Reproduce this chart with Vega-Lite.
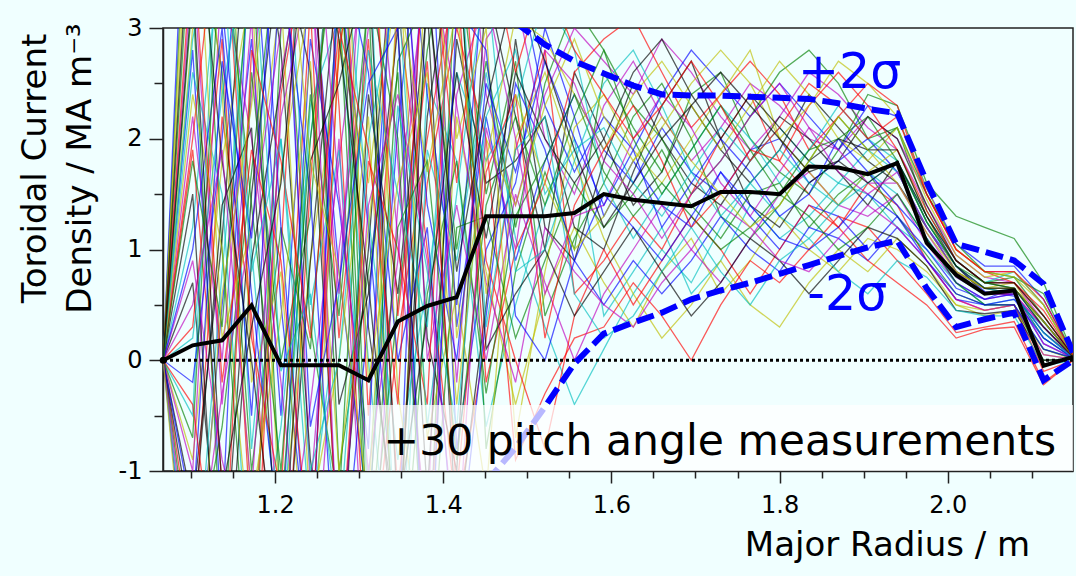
{"$schema":"https://vega.github.io/schema/vega-lite/v6.json","width":910,"height":443,"autosize":{"type":"none"},"padding":{"left":163,"top":28,"right":3,"bottom":105},"background":"#f0ffff","config":{"font":"DejaVu Sans","view":{"stroke":"#222","strokeWidth":1.5}},
"resolve":{"axis":{"x":"independent","y":"independent"}},
"datasets":{
"sp":[
{"s":1,"x":1.067,"y":0},{"s":1,"x":1.102,"y":2.8},{"s":1,"x":1.137,"y":-1.5},{"s":1,"x":1.172,"y":4.2},{"s":1,"x":1.207,"y":0.5},{"s":1,"x":1.242,"y":-2},{"s":1,"x":1.276,"y":3.5},{"s":1,"x":1.311,"y":1.2},{"s":1,"x":1.346,"y":-1.8},{"s":1,"x":1.381,"y":5},{"s":1,"x":1.416,"y":0.3},{"s":1,"x":1.451,"y":2.2},{"s":1,"x":1.486,"y":0.9},{"s":1,"x":1.521,"y":1.8},{"s":1,"x":1.556,"y":2.4},{"s":1,"x":1.591,"y":1.9},{"s":1,"x":1.626,"y":1.6},{"s":1,"x":1.66,"y":2.1},{"s":1,"x":1.695,"y":1.7},{"s":1,"x":1.73,"y":1.5},{"s":1,"x":1.765,"y":1.9},{"s":1,"x":1.8,"y":2},{"s":1,"x":1.835,"y":1.6},{"s":1,"x":1.87,"y":1.8},{"s":1,"x":1.905,"y":2},{"s":1,"x":1.94,"y":1.7},{"s":1,"x":1.975,"y":1.2},{"s":1,"x":2.01,"y":0.85},{"s":1,"x":2.044,"y":0.62},{"s":1,"x":2.079,"y":0.58},{"s":1,"x":2.114,"y":0.15},{"s":1,"x":2.149,"y":0.02},
{"s":2,"x":1.067,"y":0},{"s":2,"x":1.102,"y":5.5},{"s":2,"x":1.137,"y":1},{"s":2,"x":1.172,"y":-2.5},{"s":2,"x":1.207,"y":3},{"s":2,"x":1.242,"y":4.5},{"s":2,"x":1.276,"y":-1},{"s":2,"x":1.311,"y":0.8},{"s":2,"x":1.346,"y":2.6},{"s":2,"x":1.381,"y":-2.2},{"s":2,"x":1.416,"y":3.8},{"s":2,"x":1.451,"y":1.5},{"s":2,"x":1.486,"y":2.7},{"s":2,"x":1.521,"y":0.4},{"s":2,"x":1.556,"y":1.1},{"s":2,"x":1.591,"y":1.6},{"s":2,"x":1.626,"y":2.2},{"s":2,"x":1.66,"y":2.5},{"s":2,"x":1.695,"y":2},{"s":2,"x":1.73,"y":1.3},{"s":2,"x":1.765,"y":1.1},{"s":2,"x":1.8,"y":1.4},{"s":2,"x":1.835,"y":1.8},{"s":2,"x":1.87,"y":2.2},{"s":2,"x":1.905,"y":1.9},{"s":2,"x":1.94,"y":2.1},{"s":2,"x":1.975,"y":1.35},{"s":2,"x":2.01,"y":0.9},{"s":2,"x":2.044,"y":0.7},{"s":2,"x":2.079,"y":0.75},{"s":2,"x":2.114,"y":0.4},{"s":2,"x":2.149,"y":0.04},
{"s":3,"x":1.067,"y":0},{"s":3,"x":1.102,"y":-1.8},{"s":3,"x":1.137,"y":2.2},{"s":3,"x":1.172,"y":0.4},{"s":3,"x":1.207,"y":-2.8},{"s":3,"x":1.242,"y":1.6},{"s":3,"x":1.276,"y":4.8},{"s":3,"x":1.311,"y":-0.5},{"s":3,"x":1.346,"y":3.2},{"s":3,"x":1.381,"y":1},{"s":3,"x":1.416,"y":-1.4},{"s":3,"x":1.451,"y":0.2},{"s":3,"x":1.486,"y":1.9},{"s":3,"x":1.521,"y":2.8},{"s":3,"x":1.556,"y":0.6},{"s":3,"x":1.591,"y":0.9},{"s":3,"x":1.626,"y":1.3},{"s":3,"x":1.66,"y":1},{"s":3,"x":1.695,"y":1.5},{"s":3,"x":1.73,"y":2},{"s":3,"x":1.765,"y":2.4},{"s":3,"x":1.8,"y":1.8},{"s":3,"x":1.835,"y":1.5},{"s":3,"x":1.87,"y":1.2},{"s":3,"x":1.905,"y":1.6},{"s":3,"x":1.94,"y":1.4},{"s":3,"x":1.975,"y":0.9},{"s":3,"x":2.01,"y":0.55},{"s":3,"x":2.044,"y":0.45},{"s":3,"x":2.079,"y":0.5},{"s":3,"x":2.114,"y":-0.1},{"s":3,"x":2.149,"y":0},
{"s":4,"x":1.067,"y":0},{"s":4,"x":1.102,"y":1.2},{"s":4,"x":1.137,"y":3.9},{"s":4,"x":1.172,"y":-0.8},{"s":4,"x":1.207,"y":2},{"s":4,"x":1.242,"y":-1.5},{"s":4,"x":1.276,"y":0.6},{"s":4,"x":1.311,"y":4},{"s":4,"x":1.346,"y":-2.4},{"s":4,"x":1.381,"y":2.5},{"s":4,"x":1.416,"y":1.8},{"s":4,"x":1.451,"y":-0.6},{"s":4,"x":1.486,"y":0.5},{"s":4,"x":1.521,"y":1.4},{"s":4,"x":1.556,"y":2},{"s":4,"x":1.591,"y":0.4},{"s":4,"x":1.626,"y":0.8},{"s":4,"x":1.66,"y":1.2},{"s":4,"x":1.695,"y":0.6},{"s":4,"x":1.73,"y":0.9},{"s":4,"x":1.765,"y":1.4},{"s":4,"x":1.8,"y":1.1},{"s":4,"x":1.835,"y":1.3},{"s":4,"x":1.87,"y":1.6},{"s":4,"x":1.905,"y":1.5},{"s":4,"x":1.94,"y":1.2},{"s":4,"x":1.975,"y":1},{"s":4,"x":2.01,"y":0.7},{"s":4,"x":2.044,"y":0.5},{"s":4,"x":2.079,"y":0.55},{"s":4,"x":2.114,"y":0.3},{"s":4,"x":2.149,"y":0.03},
{"s":5,"x":1.067,"y":0},{"s":5,"x":1.102,"y":3.6},{"s":5,"x":1.137,"y":-0.4},{"s":5,"x":1.172,"y":2.4},{"s":5,"x":1.207,"y":5.2},{"s":5,"x":1.242,"y":-1.2},{"s":5,"x":1.276,"y":2},{"s":5,"x":1.311,"y":-2.6},{"s":5,"x":1.346,"y":1.4},{"s":5,"x":1.381,"y":3.6},{"s":5,"x":1.416,"y":-0.2},{"s":5,"x":1.451,"y":2.9},{"s":5,"x":1.486,"y":3.3},{"s":5,"x":1.521,"y":2},{"s":5,"x":1.556,"y":1.5},{"s":5,"x":1.591,"y":2.3},{"s":5,"x":1.626,"y":2.7},{"s":5,"x":1.66,"y":2.2},{"s":5,"x":1.695,"y":1.8},{"s":5,"x":1.73,"y":2.1},{"s":5,"x":1.765,"y":2.5},{"s":5,"x":1.8,"y":2.3},{"s":5,"x":1.835,"y":2},{"s":5,"x":1.87,"y":1.9},{"s":5,"x":1.905,"y":2.2},{"s":5,"x":1.94,"y":2},{"s":5,"x":1.975,"y":1.5},{"s":5,"x":2.01,"y":1},{"s":5,"x":2.044,"y":0.8},{"s":5,"x":2.079,"y":0.8},{"s":5,"x":2.114,"y":0.5},{"s":5,"x":2.149,"y":0.05},
{"s":6,"x":1.067,"y":0},{"s":6,"x":1.102,"y":-0.9},{"s":6,"x":1.137,"y":1.8},{"s":6,"x":1.172,"y":3.4},{"s":6,"x":1.207,"y":-1.6},{"s":6,"x":1.242,"y":0.9},{"s":6,"x":1.276,"y":2.7},{"s":6,"x":1.311,"y":5},{"s":6,"x":1.346,"y":-0.3},{"s":6,"x":1.381,"y":-2},{"s":6,"x":1.416,"y":2.2},{"s":6,"x":1.451,"y":0.8},{"s":6,"x":1.486,"y":-0.4},{"s":6,"x":1.521,"y":0.6},{"s":6,"x":1.556,"y":1.2},{"s":6,"x":1.591,"y":0.7},{"s":6,"x":1.626,"y":0.3},{"s":6,"x":1.66,"y":0.8},{"s":6,"x":1.695,"y":1.1},{"s":6,"x":1.73,"y":0.6},{"s":6,"x":1.765,"y":0.9},{"s":6,"x":1.8,"y":1.3},{"s":6,"x":1.835,"y":1},{"s":6,"x":1.87,"y":0.8},{"s":6,"x":1.905,"y":1.1},{"s":6,"x":1.94,"y":1},{"s":6,"x":1.975,"y":0.8},{"s":6,"x":2.01,"y":0.5},{"s":6,"x":2.044,"y":0.4},{"s":6,"x":2.079,"y":0.45},{"s":6,"x":2.114,"y":0.1},{"s":6,"x":2.149,"y":0.01},
{"s":7,"x":1.067,"y":0},{"s":7,"x":1.102,"y":0.7},{"s":7,"x":1.137,"y":-2.2},{"s":7,"x":1.172,"y":1.5},{"s":7,"x":1.207,"y":3.8},{"s":7,"x":1.242,"y":2.6},{"s":7,"x":1.276,"y":-1.8},{"s":7,"x":1.311,"y":1},{"s":7,"x":1.346,"y":4.4},{"s":7,"x":1.381,"y":0.2},{"s":7,"x":1.416,"y":-1},{"s":7,"x":1.451,"y":3.4},{"s":7,"x":1.486,"y":2.2},{"s":7,"x":1.521,"y":1},{"s":7,"x":1.556,"y":2.6},{"s":7,"x":1.591,"y":2},{"s":7,"x":1.626,"y":1.4},{"s":7,"x":1.66,"y":1.7},{"s":7,"x":1.695,"y":2.3},{"s":7,"x":1.73,"y":1.9},{"s":7,"x":1.765,"y":1.6},{"s":7,"x":1.8,"y":1.9},{"s":7,"x":1.835,"y":2.4},{"s":7,"x":1.87,"y":2.1},{"s":7,"x":1.905,"y":1.8},{"s":7,"x":1.94,"y":1.6},{"s":7,"x":1.975,"y":1.2},{"s":7,"x":2.01,"y":0.8},{"s":7,"x":2.044,"y":0.65},{"s":7,"x":2.079,"y":0.6},{"s":7,"x":2.114,"y":0.2},{"s":7,"x":2.149,"y":0.02},
{"s":8,"x":1.067,"y":0},{"s":8,"x":1.102,"y":-2.6},{"s":8,"x":1.137,"y":0.5},{"s":8,"x":1.172,"y":2.9},{"s":8,"x":1.207,"y":-0.5},{"s":8,"x":1.242,"y":3.7},{"s":8,"x":1.276,"y":0.8},{"s":8,"x":1.311,"y":-1.4},{"s":8,"x":1.346,"y":2.1},{"s":8,"x":1.381,"y":4.6},{"s":8,"x":1.416,"y":-0.8},{"s":8,"x":1.451,"y":1},{"s":8,"x":1.486,"y":1.6},{"s":8,"x":1.521,"y":3},{"s":8,"x":1.556,"y":2.2},{"s":8,"x":1.591,"y":1.3},{"s":8,"x":1.626,"y":1.8},{"s":8,"x":1.66,"y":1.4},{"s":8,"x":1.695,"y":1.2},{"s":8,"x":1.73,"y":1.7},{"s":8,"x":1.765,"y":1.3},{"s":8,"x":1.8,"y":1},{"s":8,"x":1.835,"y":1.4},{"s":8,"x":1.87,"y":1.3},{"s":8,"x":1.905,"y":1},{"s":8,"x":1.94,"y":1.3},{"s":8,"x":1.975,"y":1},{"s":8,"x":2.01,"y":0.65},{"s":8,"x":2.044,"y":0.55},{"s":8,"x":2.079,"y":0.65},{"s":8,"x":2.114,"y":0.35},{"s":8,"x":2.149,"y":0.03},
{"s":9,"x":1.067,"y":0},{"s":9,"x":1.102,"y":4.2},{"s":9,"x":1.137,"y":2.6},{"s":9,"x":1.172,"y":-1},{"s":9,"x":1.207,"y":1.2},{"s":9,"x":1.242,"y":0.1},{"s":9,"x":1.276,"y":3.3},{"s":9,"x":1.311,"y":-2},{"s":9,"x":1.346,"y":0.5},{"s":9,"x":1.381,"y":2.8},{"s":9,"x":1.416,"y":4.2},{"s":9,"x":1.451,"y":-0.8},{"s":9,"x":1.486,"y":0.8},{"s":9,"x":1.521,"y":1.7},{"s":9,"x":1.556,"y":1},{"s":9,"x":1.591,"y":2.6},{"s":9,"x":1.626,"y":2.1},{"s":9,"x":1.66,"y":1.7},{"s":9,"x":1.695,"y":2.4},{"s":9,"x":1.73,"y":2.6},{"s":9,"x":1.765,"y":2},{"s":9,"x":1.8,"y":1.7},{"s":9,"x":1.835,"y":1.5},{"s":9,"x":1.87,"y":1.9},{"s":9,"x":1.905,"y":2.4},{"s":9,"x":1.94,"y":2.3},{"s":9,"x":1.975,"y":1.6},{"s":9,"x":2.01,"y":1.3},{"s":9,"x":2.044,"y":1.2},{"s":9,"x":2.079,"y":1.1},{"s":9,"x":2.114,"y":0.7},{"s":9,"x":2.149,"y":0.06},
{"s":10,"x":1.067,"y":0},{"s":10,"x":1.102,"y":1.9},{"s":10,"x":1.137,"y":-1.1},{"s":10,"x":1.172,"y":-2.9},{"s":10,"x":1.207,"y":2.4},{"s":10,"x":1.242,"y":4},{"s":10,"x":1.276,"y":0.2},{"s":10,"x":1.311,"y":2.9},{"s":10,"x":1.346,"y":-1.2},{"s":10,"x":1.381,"y":1.6},{"s":10,"x":1.416,"y":3},{"s":10,"x":1.451,"y":2},{"s":10,"x":1.486,"y":-0.9},{"s":10,"x":1.521,"y":-0.3},{"s":10,"x":1.556,"y":0.2},{"s":10,"x":1.591,"y":0.3},{"s":10,"x":1.626,"y":0.7},{"s":10,"x":1.66,"y":0.4},{"s":10,"x":1.695,"y":0},{"s":10,"x":1.73,"y":0.5},{"s":10,"x":1.765,"y":0.9},{"s":10,"x":1.8,"y":0.7},{"s":10,"x":1.835,"y":1},{"s":10,"x":1.87,"y":1.3},{"s":10,"x":1.905,"y":1.2},{"s":10,"x":1.94,"y":0.9},{"s":10,"x":1.975,"y":0.6},{"s":10,"x":2.01,"y":0.25},{"s":10,"x":2.044,"y":0.3},{"s":10,"x":2.079,"y":0.35},{"s":10,"x":2.114,"y":-0.2},{"s":10,"x":2.149,"y":0},
{"s":11,"x":1.067,"y":0},{"s":11,"x":1.102,"y":-0.5},{"s":11,"x":1.137,"y":4.6},{"s":11,"x":1.172,"y":1},{"s":11,"x":1.207,"y":-1.9},{"s":11,"x":1.242,"y":2.3},{"s":11,"x":1.276,"y":3.1},{"s":11,"x":1.311,"y":0},{"s":11,"x":1.346,"y":-2.8},{"s":11,"x":1.381,"y":1.9},{"s":11,"x":1.416,"y":0.9},{"s":11,"x":1.451,"y":2.6},{"s":11,"x":1.486,"y":1.1},{"s":11,"x":1.521,"y":0.3},{"s":11,"x":1.556,"y":-0.4},{"s":11,"x":1.591,"y":0.1},{"s":11,"x":1.626,"y":0.6},{"s":11,"x":1.66,"y":1},{"s":11,"x":1.695,"y":0.7},{"s":11,"x":1.73,"y":1.2},{"s":11,"x":1.765,"y":1.6},{"s":11,"x":1.8,"y":1.3},{"s":11,"x":1.835,"y":1.1},{"s":11,"x":1.87,"y":1.4},{"s":11,"x":1.905,"y":1.7},{"s":11,"x":1.94,"y":1.5},{"s":11,"x":1.975,"y":1.1},{"s":11,"x":2.01,"y":0.75},{"s":11,"x":2.044,"y":0.6},{"s":11,"x":2.079,"y":0.6},{"s":11,"x":2.114,"y":0.2},{"s":11,"x":2.149,"y":0.02},
{"s":12,"x":1.067,"y":0},{"s":12,"x":1.102,"y":2.2},{"s":12,"x":1.137,"y":0},{"s":12,"x":1.172,"y":3.1},{"s":12,"x":1.207,"y":-2.3},{"s":12,"x":1.242,"y":-0.4},{"s":12,"x":1.276,"y":1.8},{"s":12,"x":1.311,"y":3.9},{"s":12,"x":1.346,"y":1.1},{"s":12,"x":1.381,"y":-1.6},{"s":12,"x":1.416,"y":5.2},{"s":12,"x":1.451,"y":2.4},{"s":12,"x":1.486,"y":1.4},{"s":12,"x":1.521,"y":2.4},{"s":12,"x":1.556,"y":3},{"s":12,"x":1.591,"y":2.7},{"s":12,"x":1.626,"y":2.4},{"s":12,"x":1.66,"y":2.9},{"s":12,"x":1.695,"y":2.6},{"s":12,"x":1.73,"y":2.2},{"s":12,"x":1.765,"y":1.9},{"s":12,"x":1.8,"y":2.2},{"s":12,"x":1.835,"y":2.6},{"s":12,"x":1.87,"y":2.4},{"s":12,"x":1.905,"y":2.1},{"s":12,"x":1.94,"y":1.9},{"s":12,"x":1.975,"y":1.4},{"s":12,"x":2.01,"y":0.95},{"s":12,"x":2.044,"y":0.75},{"s":12,"x":2.079,"y":0.7},{"s":12,"x":2.114,"y":0.35},{"s":12,"x":2.149,"y":0.04},
{"s":13,"x":1.067,"y":0},{"s":13,"x":1.102,"y":3},{"s":13,"x":1.137,"y":5.8},{"s":13,"x":1.172,"y":-0.2},{"s":13,"x":1.207,"y":0.8},{"s":13,"x":1.242,"y":-2.5},{"s":13,"x":1.276,"y":2.9},{"s":13,"x":1.311,"y":1.6},{"s":13,"x":1.346,"y":3.8},{"s":13,"x":1.381,"y":-0.7},{"s":13,"x":1.416,"y":0.6},{"s":13,"x":1.451,"y":-1.2},{"s":13,"x":1.486,"y":2},{"s":13,"x":1.521,"y":2.6},{"s":13,"x":1.556,"y":1.8},{"s":13,"x":1.591,"y":1.1},{"s":13,"x":1.626,"y":0.6},{"s":13,"x":1.66,"y":0.2},{"s":13,"x":1.695,"y":0.5},{"s":13,"x":1.73,"y":0.9},{"s":13,"x":1.765,"y":0.5},{"s":13,"x":1.8,"y":0.3},{"s":13,"x":1.835,"y":0.7},{"s":13,"x":1.87,"y":1},{"s":13,"x":1.905,"y":0.8},{"s":13,"x":1.94,"y":1.1},{"s":13,"x":1.975,"y":0.85},{"s":13,"x":2.01,"y":0.5},{"s":13,"x":2.044,"y":0.45},{"s":13,"x":2.079,"y":0.5},{"s":13,"x":2.114,"y":0.05},{"s":13,"x":2.149,"y":0.01},
{"s":14,"x":1.067,"y":0},{"s":14,"x":1.102,"y":-1.3},{"s":14,"x":1.137,"y":1.1},{"s":14,"x":1.172,"y":4.5},{"s":14,"x":1.207,"y":2.8},{"s":14,"x":1.242,"y":-0.9},{"s":14,"x":1.276,"y":-2.6},{"s":14,"x":1.311,"y":2.4},{"s":14,"x":1.346,"y":0.6},{"s":14,"x":1.381,"y":3.2},{"s":14,"x":1.416,"y":-1.6},{"s":14,"x":1.451,"y":0.5},{"s":14,"x":1.486,"y":2.9},{"s":14,"x":1.521,"y":1.2},{"s":14,"x":1.556,"y":0.9},{"s":14,"x":1.591,"y":1.8},{"s":14,"x":1.626,"y":2.5},{"s":14,"x":1.66,"y":2},{"s":14,"x":1.695,"y":1.6},{"s":14,"x":1.73,"y":1.4},{"s":14,"x":1.765,"y":1.8},{"s":14,"x":1.8,"y":2.2},{"s":14,"x":1.835,"y":2},{"s":14,"x":1.87,"y":1.7},{"s":14,"x":1.905,"y":1.4},{"s":14,"x":1.94,"y":1.8},{"s":14,"x":1.975,"y":1.25},{"s":14,"x":2.01,"y":0.85},{"s":14,"x":2.044,"y":0.6},{"s":14,"x":2.079,"y":0.6},{"s":14,"x":2.114,"y":0.25},{"s":14,"x":2.149,"y":0.03},
{"s":15,"x":1.067,"y":0},{"s":15,"x":1.102,"y":6},{"s":15,"x":1.137,"y":3.2},{"s":15,"x":1.172,"y":0.6},{"s":15,"x":1.207,"y":-1.7},{"s":15,"x":1.242,"y":2.9},{"s":15,"x":1.276,"y":1.4},{"s":15,"x":1.311,"y":-0.8},{"s":15,"x":1.346,"y":4.8},{"s":15,"x":1.381,"y":2.4},{"s":15,"x":1.416,"y":0.5},{"s":15,"x":1.451,"y":3.8},{"s":15,"x":1.486,"y":3.6},{"s":15,"x":1.521,"y":2.3},{"s":15,"x":1.556,"y":1.7},{"s":15,"x":1.591,"y":2.2},{"s":15,"x":1.626,"y":1.9},{"s":15,"x":1.66,"y":2.4},{"s":15,"x":1.695,"y":2.8},{"s":15,"x":1.73,"y":2.5},{"s":15,"x":1.765,"y":2.2},{"s":15,"x":1.8,"y":2.5},{"s":15,"x":1.835,"y":2.2},{"s":15,"x":1.87,"y":1.9},{"s":15,"x":1.905,"y":2.3},{"s":15,"x":1.94,"y":2.2},{"s":15,"x":1.975,"y":1.55},{"s":15,"x":2.01,"y":1.05},{"s":15,"x":2.044,"y":0.85},{"s":15,"x":2.079,"y":0.85},{"s":15,"x":2.114,"y":0.55},{"s":15,"x":2.149,"y":0.05},
{"s":16,"x":1.067,"y":0},{"s":16,"x":1.102,"y":-2},{"s":16,"x":1.137,"y":-0.6},{"s":16,"x":1.172,"y":1.7},{"s":16,"x":1.207,"y":4.1},{"s":16,"x":1.242,"y":0.3},{"s":16,"x":1.276,"y":-1.3},{"s":16,"x":1.311,"y":3.4},{"s":16,"x":1.346,"y":2},{"s":16,"x":1.381,"y":-2.4},{"s":16,"x":1.416,"y":1.2},{"s":16,"x":1.451,"y":1.3},{"s":16,"x":1.486,"y":0.2},{"s":16,"x":1.521,"y":0.9},{"s":16,"x":1.556,"y":1.6},{"s":16,"x":1.591,"y":1.2},{"s":16,"x":1.626,"y":1.5},{"s":16,"x":1.66,"y":1.9},{"s":16,"x":1.695,"y":1.4},{"s":16,"x":1.73,"y":1.1},{"s":16,"x":1.765,"y":1.5},{"s":16,"x":1.8,"y":1.6},{"s":16,"x":1.835,"y":1.2},{"s":16,"x":1.87,"y":1.5},{"s":16,"x":1.905,"y":1.7},{"s":16,"x":1.94,"y":1.3},{"s":16,"x":1.975,"y":0.95},{"s":16,"x":2.01,"y":0.6},{"s":16,"x":2.044,"y":0.5},{"s":16,"x":2.079,"y":0.5},{"s":16,"x":2.114,"y":0},{"s":16,"x":2.149,"y":0.01},
{"s":17,"x":1.067,"y":0},{"s":17,"x":1.102,"y":0.3},{"s":17,"x":1.137,"y":2.9},{"s":17,"x":1.172,"y":-1.6},{"s":17,"x":1.207,"y":1},{"s":17,"x":1.242,"y":5.4},{"s":17,"x":1.276,"y":2.3},{"s":17,"x":1.311,"y":-2.2},{"s":17,"x":1.346,"y":0.2},{"s":17,"x":1.381,"y":2},{"s":17,"x":1.416,"y":3.5},{"s":17,"x":1.451,"y":-0.2},{"s":17,"x":1.486,"y":1},{"s":17,"x":1.521,"y":1.6},{"s":17,"x":1.556,"y":2.6},{"s":17,"x":1.591,"y":2.9},{"s":17,"x":1.626,"y":3.1},{"s":17,"x":1.66,"y":2.6},{"s":17,"x":1.695,"y":2.1},{"s":17,"x":1.73,"y":2.4},{"s":17,"x":1.765,"y":2.7},{"s":17,"x":1.8,"y":2.4},{"s":17,"x":1.835,"y":1.9},{"s":17,"x":1.87,"y":2.2},{"s":17,"x":1.905,"y":2.5},{"s":17,"x":1.94,"y":2.3},{"s":17,"x":1.975,"y":1.5},{"s":17,"x":2.01,"y":1},{"s":17,"x":2.044,"y":0.8},{"s":17,"x":2.079,"y":0.7},{"s":17,"x":2.114,"y":0.45},{"s":17,"x":2.149,"y":0.04},
{"s":18,"x":1.067,"y":0},{"s":18,"x":1.102,"y":2.6},{"s":18,"x":1.137,"y":1.5},{"s":18,"x":1.172,"y":-2.3},{"s":18,"x":1.207,"y":-0.6},{"s":18,"x":1.242,"y":2},{"s":18,"x":1.276,"y":4.3},{"s":18,"x":1.311,"y":1.3},{"s":18,"x":1.346,"y":-0.9},{"s":18,"x":1.381,"y":0.7},{"s":18,"x":1.416,"y":2.6},{"s":18,"x":1.451,"y":1.8},{"s":18,"x":1.486,"y":2.3},{"s":18,"x":1.521,"y":3.3},{"s":18,"x":1.556,"y":2.8},{"s":18,"x":1.591,"y":1.6},{"s":18,"x":1.626,"y":1.1},{"s":18,"x":1.66,"y":1.5},{"s":18,"x":1.695,"y":1.9},{"s":18,"x":1.73,"y":2.3},{"s":18,"x":1.765,"y":2},{"s":18,"x":1.8,"y":1.6},{"s":18,"x":1.835,"y":1.9},{"s":18,"x":1.87,"y":2.3},{"s":18,"x":1.905,"y":2},{"s":18,"x":1.94,"y":1.8},{"s":18,"x":1.975,"y":1.3},{"s":18,"x":2.01,"y":0.9},{"s":18,"x":2.044,"y":0.7},{"s":18,"x":2.079,"y":0.8},{"s":18,"x":2.114,"y":0.5},{"s":18,"x":2.149,"y":0.04},
{"s":19,"x":1.067,"y":0},{"s":19,"x":1.102,"y":-1},{"s":19,"x":1.137,"y":3.5},{"s":19,"x":1.172,"y":2},{"s":19,"x":1.207,"y":-0.2},{"s":19,"x":1.242,"y":-2.7},{"s":19,"x":1.276,"y":1},{"s":19,"x":1.311,"y":3},{"s":19,"x":1.346,"y":5.5},{"s":19,"x":1.381,"y":0},{"s":19,"x":1.416,"y":1.4},{"s":19,"x":1.451,"y":0},{"s":19,"x":1.486,"y":1.5},{"s":19,"x":1.521,"y":0.7},{"s":19,"x":1.556,"y":0},{"s":19,"x":1.591,"y":0.6},{"s":19,"x":1.626,"y":1},{"s":19,"x":1.66,"y":1.4},{"s":19,"x":1.695,"y":1},{"s":19,"x":1.73,"y":0.7},{"s":19,"x":1.765,"y":1.1},{"s":19,"x":1.8,"y":1.5},{"s":19,"x":1.835,"y":1.7},{"s":19,"x":1.87,"y":1.4},{"s":19,"x":1.905,"y":1.3},{"s":19,"x":1.94,"y":1.5},{"s":19,"x":1.975,"y":1.05},{"s":19,"x":2.01,"y":0.7},{"s":19,"x":2.044,"y":0.55},{"s":19,"x":2.079,"y":0.6},{"s":19,"x":2.114,"y":0.15},{"s":19,"x":2.149,"y":0.02},
{"s":20,"x":1.067,"y":0},{"s":20,"x":1.102,"y":4.8},{"s":20,"x":1.137,"y":0.2},{"s":20,"x":1.172,"y":1.2},{"s":20,"x":1.207,"y":3.3},{"s":20,"x":1.242,"y":-1.4},{"s":20,"x":1.276,"y":0},{"s":20,"x":1.311,"y":2.2},{"s":20,"x":1.346,"y":-2.2},{"s":20,"x":1.381,"y":4},{"s":20,"x":1.416,"y":2},{"s":20,"x":1.451,"y":3},{"s":20,"x":1.486,"y":-0.7},{"s":20,"x":1.521,"y":0.8},{"s":20,"x":1.556,"y":2.1},{"s":20,"x":1.591,"y":2.4},{"s":20,"x":1.626,"y":1.9},{"s":20,"x":1.66,"y":1.6},{"s":20,"x":1.695,"y":2},{"s":20,"x":1.73,"y":2.4},{"s":20,"x":1.765,"y":2.8},{"s":20,"x":1.8,"y":2},{"s":20,"x":1.835,"y":1.7},{"s":20,"x":1.87,"y":1.4},{"s":20,"x":1.905,"y":1.7},{"s":20,"x":1.94,"y":1.9},{"s":20,"x":1.975,"y":1.3},{"s":20,"x":2.01,"y":0.8},{"s":20,"x":2.044,"y":0.65},{"s":20,"x":2.079,"y":0.7},{"s":20,"x":2.114,"y":0.3},{"s":20,"x":2.149,"y":0.03},
{"s":21,"x":1.067,"y":0},{"s":21,"x":1.102,"y":1.5},{"s":21,"x":1.137,"y":-2.8},{"s":21,"x":1.172,"y":0.9},{"s":21,"x":1.207,"y":2.5},{"s":21,"x":1.242,"y":4.2},{"s":21,"x":1.276,"y":-0.4},{"s":21,"x":1.311,"y":0.6},{"s":21,"x":1.346,"y":3},{"s":21,"x":1.381,"y":-1.2},{"s":21,"x":1.416,"y":2.9},{"s":21,"x":1.451,"y":1.6},{"s":21,"x":1.486,"y":1.8},{"s":21,"x":1.521,"y":2.2},{"s":21,"x":1.556,"y":1.2},{"s":21,"x":1.591,"y":1},{"s":21,"x":1.626,"y":1.7},{"s":21,"x":1.66,"y":2.3},{"s":21,"x":1.695,"y":2.7},{"s":21,"x":1.73,"y":2},{"s":21,"x":1.765,"y":1.4},{"s":21,"x":1.8,"y":1.2},{"s":21,"x":1.835,"y":1.6},{"s":21,"x":1.87,"y":1.8},{"s":21,"x":1.905,"y":2.2},{"s":21,"x":1.94,"y":2},{"s":21,"x":1.975,"y":1.4},{"s":21,"x":2.01,"y":0.9},{"s":21,"x":2.044,"y":0.7},{"s":21,"x":2.079,"y":0.65},{"s":21,"x":2.114,"y":0.35},{"s":21,"x":2.149,"y":0.03},
{"s":22,"x":1.067,"y":0},{"s":22,"x":1.102,"y":-0.2},{"s":22,"x":1.137,"y":2},{"s":22,"x":1.172,"y":5.2},{"s":22,"x":1.207,"y":1.2},{"s":22,"x":1.242,"y":-2.1},{"s":22,"x":1.276,"y":3.8},{"s":22,"x":1.311,"y":2.6},{"s":22,"x":1.346,"y":0},{"s":22,"x":1.381,"y":1.2},{"s":22,"x":1.416,"y":-2},{"s":22,"x":1.451,"y":0.4},{"s":22,"x":1.486,"y":2.5},{"s":22,"x":1.521,"y":1.9},{"s":22,"x":1.556,"y":0.9},{"s":22,"x":1.591,"y":0.5},{"s":22,"x":1.626,"y":0.9},{"s":22,"x":1.66,"y":0.6},{"s":22,"x":1.695,"y":0.9},{"s":22,"x":1.73,"y":1.3},{"s":22,"x":1.765,"y":1},{"s":22,"x":1.8,"y":0.8},{"s":22,"x":1.835,"y":1.2},{"s":22,"x":1.87,"y":1.1},{"s":22,"x":1.905,"y":0.9},{"s":22,"x":1.94,"y":1.2},{"s":22,"x":1.975,"y":0.9},{"s":22,"x":2.01,"y":0.55},{"s":22,"x":2.044,"y":0.5},{"s":22,"x":2.079,"y":0.55},{"s":22,"x":2.114,"y":0.2},{"s":22,"x":2.149,"y":0.02},
{"s":23,"x":1.067,"y":0},{"s":23,"x":1.102,"y":3.3},{"s":23,"x":1.137,"y":-1.9},{"s":23,"x":1.172,"y":2.6},{"s":23,"x":1.207,"y":0},{"s":23,"x":1.242,"y":1.3},{"s":23,"x":1.276,"y":5},{"s":23,"x":1.311,"y":-1.5},{"s":23,"x":1.346,"y":2.7},{"s":23,"x":1.381,"y":3.3},{"s":23,"x":1.416,"y":1},{"s":23,"x":1.451,"y":2.7},{"s":23,"x":1.486,"y":1.2},{"s":23,"x":1.521,"y":2.5},{"s":23,"x":1.556,"y":3.2},{"s":23,"x":1.591,"y":2.8},{"s":23,"x":1.626,"y":2.3},{"s":23,"x":1.66,"y":2},{"s":23,"x":1.695,"y":1.5},{"s":23,"x":1.73,"y":1.8},{"s":23,"x":1.765,"y":2.2},{"s":23,"x":1.8,"y":2.6},{"s":23,"x":1.835,"y":2.8},{"s":23,"x":1.87,"y":2.5},{"s":23,"x":1.905,"y":2},{"s":23,"x":1.94,"y":2.1},{"s":23,"x":1.975,"y":1.5},{"s":23,"x":2.01,"y":1.05},{"s":23,"x":2.044,"y":0.8},{"s":23,"x":2.079,"y":0.75},{"s":23,"x":2.114,"y":0.6},{"s":23,"x":2.149,"y":0.05},
{"s":24,"x":1.067,"y":0},{"s":24,"x":1.102,"y":2},{"s":24,"x":1.137,"y":4.4},{"s":24,"x":1.172,"y":0.2},{"s":24,"x":1.207,"y":-1.2},{"s":24,"x":1.242,"y":3.2},{"s":24,"x":1.276,"y":-2},{"s":24,"x":1.311,"y":1.8},{"s":24,"x":1.346,"y":1},{"s":24,"x":1.381,"y":-0.4},{"s":24,"x":1.416,"y":4.5},{"s":24,"x":1.451,"y":0.9},{"s":24,"x":1.486,"y":0},{"s":24,"x":1.521,"y":-0.8},{"s":24,"x":1.556,"y":0.4},{"s":24,"x":1.591,"y":1},{"s":24,"x":1.626,"y":0.5},{"s":24,"x":1.66,"y":0.9},{"s":24,"x":1.695,"y":1.3},{"s":24,"x":1.73,"y":1},{"s":24,"x":1.765,"y":0.6},{"s":24,"x":1.8,"y":1},{"s":24,"x":1.835,"y":1.4},{"s":24,"x":1.87,"y":1.2},{"s":24,"x":1.905,"y":0.9},{"s":24,"x":1.94,"y":0.7},{"s":24,"x":1.975,"y":0.5},{"s":24,"x":2.01,"y":0.2},{"s":24,"x":2.044,"y":0.28},{"s":24,"x":2.079,"y":0.3},{"s":24,"x":2.114,"y":-0.22},{"s":24,"x":2.149,"y":0},
{"s":25,"x":1.067,"y":0},{"s":25,"x":1.102,"y":-2.4},{"s":25,"x":1.137,"y":0.8},{"s":25,"x":1.172,"y":3.6},{"s":25,"x":1.207,"y":4.9},{"s":25,"x":1.242,"y":0.5},{"s":25,"x":1.276,"y":1.9},{"s":25,"x":1.311,"y":-1.1},{"s":25,"x":1.346,"y":2.3},{"s":25,"x":1.381,"y":0.8},{"s":25,"x":1.416,"y":-0.6},{"s":25,"x":1.451,"y":2.2},{"s":25,"x":1.486,"y":2.8},{"s":25,"x":1.521,"y":1.5},{"s":25,"x":1.556,"y":1.9},{"s":25,"x":1.591,"y":2.1},{"s":25,"x":1.626,"y":1.6},{"s":25,"x":1.66,"y":1.3},{"s":25,"x":1.695,"y":1.7},{"s":25,"x":1.73,"y":2.1},{"s":25,"x":1.765,"y":1.8},{"s":25,"x":1.8,"y":2.1},{"s":25,"x":1.835,"y":1.8},{"s":25,"x":1.87,"y":1.6},{"s":25,"x":1.905,"y":1.9},{"s":25,"x":1.94,"y":1.7},{"s":25,"x":1.975,"y":1.2},{"s":25,"x":2.01,"y":0.8},{"s":25,"x":2.044,"y":0.6},{"s":25,"x":2.079,"y":0.65},{"s":25,"x":2.114,"y":0.3},{"s":25,"x":2.149,"y":0.03},
{"s":26,"x":1.067,"y":0},{"s":26,"x":1.102,"y":0.9},{"s":26,"x":1.137,"y":-0.9},{"s":26,"x":1.172,"y":-2},{"s":26,"x":1.207,"y":2.2},{"s":26,"x":1.242,"y":3.5},{"s":26,"x":1.276,"y":0.6},{"s":26,"x":1.311,"y":4.6},{"s":26,"x":1.346,"y":1.8},{"s":26,"x":1.381,"y":-1.9},{"s":26,"x":1.416,"y":2.4},{"s":26,"x":1.451,"y":3.3},{"s":26,"x":1.486,"y":2},{"s":26,"x":1.521,"y":0.6},{"s":26,"x":1.556,"y":1.3},{"s":26,"x":1.591,"y":1.4},{"s":26,"x":1.626,"y":2},{"s":26,"x":1.66,"y":2.4},{"s":26,"x":1.695,"y":2.1},{"s":26,"x":1.73,"y":1.6},{"s":26,"x":1.765,"y":1.3},{"s":26,"x":1.8,"y":1.7},{"s":26,"x":1.835,"y":2.1},{"s":26,"x":1.87,"y":1.9},{"s":26,"x":1.905,"y":1.6},{"s":26,"x":1.94,"y":1.6},{"s":26,"x":1.975,"y":1.15},{"s":26,"x":2.01,"y":0.75},{"s":26,"x":2.044,"y":0.6},{"s":26,"x":2.079,"y":0.6},{"s":26,"x":2.114,"y":0.3},{"s":26,"x":2.149,"y":0.03},
{"s":27,"x":1.067,"y":0},{"s":27,"x":1.102,"y":5.2},{"s":27,"x":1.137,"y":2.4},{"s":27,"x":1.172,"y":-1.3},{"s":27,"x":1.207,"y":0.4},{"s":27,"x":1.242,"y":2.7},{"s":27,"x":1.276,"y":-1},{"s":27,"x":1.311,"y":1.2},{"s":27,"x":1.346,"y":3.6},{"s":27,"x":1.381,"y":5},{"s":27,"x":1.416,"y":0.2},{"s":27,"x":1.451,"y":1.8},{"s":27,"x":1.486,"y":3.1},{"s":27,"x":1.521,"y":2.9},{"s":27,"x":1.556,"y":2.4},{"s":27,"x":1.591,"y":1.9},{"s":27,"x":1.626,"y":2.4},{"s":27,"x":1.66,"y":2.7},{"s":27,"x":1.695,"y":2.3},{"s":27,"x":1.73,"y":1.9},{"s":27,"x":1.765,"y":2.3},{"s":27,"x":1.8,"y":2.7},{"s":27,"x":1.835,"y":2.4},{"s":27,"x":1.87,"y":2},{"s":27,"x":1.905,"y":1.8},{"s":27,"x":1.94,"y":2.1},{"s":27,"x":1.975,"y":1.45},{"s":27,"x":2.01,"y":0.95},{"s":27,"x":2.044,"y":0.75},{"s":27,"x":2.079,"y":0.8},{"s":27,"x":2.114,"y":0.5},{"s":27,"x":2.149,"y":0.04},
{"s":28,"x":1.067,"y":0},{"s":28,"x":1.102,"y":-1.6},{"s":28,"x":1.137,"y":1.4},{"s":28,"x":1.172,"y":2.1},{"s":28,"x":1.207,"y":-2.4},{"s":28,"x":1.242,"y":0.9},{"s":28,"x":1.276,"y":3.6},{"s":28,"x":1.311,"y":0.3},{"s":28,"x":1.346,"y":-1.6},{"s":28,"x":1.381,"y":2.2},{"s":28,"x":1.416,"y":3.9},{"s":28,"x":1.451,"y":0.1},{"s":28,"x":1.486,"y":0.6},{"s":28,"x":1.521,"y":1},{"s":28,"x":1.556,"y":0.4},{"s":28,"x":1.591,"y":0.8},{"s":28,"x":1.626,"y":1.2},{"s":28,"x":1.66,"y":0.8},{"s":28,"x":1.695,"y":0.4},{"s":28,"x":1.73,"y":0.7},{"s":28,"x":1.765,"y":1.1},{"s":28,"x":1.8,"y":0.9},{"s":28,"x":1.835,"y":0.6},{"s":28,"x":1.87,"y":0.9},{"s":28,"x":1.905,"y":1.2},{"s":28,"x":1.94,"y":1.1},{"s":28,"x":1.975,"y":0.85},{"s":28,"x":2.01,"y":0.45},{"s":28,"x":2.044,"y":0.42},{"s":28,"x":2.079,"y":0.45},{"s":28,"x":2.114,"y":0},{"s":28,"x":2.149,"y":0.01},
{"s":29,"x":1.067,"y":0},{"s":29,"x":1.102,"y":1},{"s":29,"x":1.137,"y":3},{"s":29,"x":1.172,"y":-0.5},{"s":29,"x":1.207,"y":3.6},{"s":29,"x":1.242,"y":1.5},{"s":29,"x":1.276,"y":-2.4},{"s":29,"x":1.311,"y":0.4},{"s":29,"x":1.346,"y":4.2},{"s":29,"x":1.381,"y":1.4},{"s":29,"x":1.416,"y":0},{"s":29,"x":1.451,"y":2.5},{"s":29,"x":1.486,"y":1.7},{"s":29,"x":1.521,"y":2.7},{"s":29,"x":1.556,"y":2},{"s":29,"x":1.591,"y":1.4},{"s":29,"x":1.626,"y":1.9},{"s":29,"x":1.66,"y":1.2},{"s":29,"x":1.695,"y":1.6},{"s":29,"x":1.73,"y":2},{"s":29,"x":1.765,"y":1.7},{"s":29,"x":1.8,"y":1.3},{"s":29,"x":1.835,"y":1.5},{"s":29,"x":1.87,"y":2},{"s":29,"x":1.905,"y":1.7},{"s":29,"x":1.94,"y":1.4},{"s":29,"x":1.975,"y":1.1},{"s":29,"x":2.01,"y":0.7},{"s":29,"x":2.044,"y":0.55},{"s":29,"x":2.079,"y":0.6},{"s":29,"x":2.114,"y":0.25},{"s":29,"x":2.149,"y":0.02},
{"s":30,"x":1.067,"y":0},{"s":30,"x":1.102,"y":-0.7},{"s":30,"x":1.137,"y":4},{"s":30,"x":1.172,"y":1.4},{"s":30,"x":1.207,"y":-1},{"s":30,"x":1.242,"y":2.4},{"s":30,"x":1.276,"y":0.4},{"s":30,"x":1.311,"y":3.3},{"s":30,"x":1.346,"y":-2.6},{"s":30,"x":1.381,"y":0.6},{"s":30,"x":1.416,"y":1.8},{"s":30,"x":1.451,"y":-0.3},{"s":30,"x":1.486,"y":1.3},{"s":30,"x":1.521,"y":1.8},{"s":30,"x":1.556,"y":2.4},{"s":30,"x":1.591,"y":1.7},{"s":30,"x":1.626,"y":1.3},{"s":30,"x":1.66,"y":1.6},{"s":30,"x":1.695,"y":1.3},{"s":30,"x":1.73,"y":1},{"s":30,"x":1.765,"y":1.2},{"s":30,"x":1.8,"y":1.5},{"s":30,"x":1.835,"y":1.3},{"s":30,"x":1.87,"y":1},{"s":30,"x":1.905,"y":1.2},{"s":30,"x":1.94,"y":1.5},{"s":30,"x":1.975,"y":1.1},{"s":30,"x":2.01,"y":0.7},{"s":30,"x":2.044,"y":0.5},{"s":30,"x":2.079,"y":0.5},{"s":30,"x":2.114,"y":0.1},{"s":30,"x":2.149,"y":0.02},
{"s":31,"x":1.067,"y":0},{"s":31,"x":1.102,"y":3.8},{"s":31,"x":1.137,"y":-0.2},{"s":31,"x":1.172,"y":1.9},{"s":31,"x":1.207,"y":0.9},{"s":31,"x":1.242,"y":-1.8},{"s":31,"x":1.276,"y":2.8},{"s":31,"x":1.311,"y":4.4},{"s":31,"x":1.346,"y":0.4},{"s":31,"x":1.381,"y":2.7},{"s":31,"x":1.416,"y":-1.2},{"s":31,"x":1.451,"y":1.7},{"s":31,"x":1.486,"y":2.4},{"s":31,"x":1.521,"y":0.2},{"s":31,"x":1.556,"y":1.4},{"s":31,"x":1.591,"y":1.9},{"s":31,"x":1.626,"y":2.3},{"s":31,"x":1.66,"y":1.8},{"s":31,"x":1.695,"y":1.2},{"s":31,"x":1.73,"y":1.5},{"s":31,"x":1.765,"y":1.9},{"s":31,"x":1.8,"y":1.8},{"s":31,"x":1.835,"y":2.3},{"s":31,"x":1.87,"y":2.6},{"s":31,"x":1.905,"y":2.3},{"s":31,"x":1.94,"y":1.9},{"s":31,"x":1.975,"y":1.35},{"s":31,"x":2.01,"y":0.9},{"s":31,"x":2.044,"y":0.7},{"s":31,"x":2.079,"y":0.7},{"s":31,"x":2.114,"y":0.4},{"s":31,"x":2.149,"y":0.04},
{"s":32,"x":1.067,"y":0},{"s":32,"x":1.102,"y":0.2},{"s":32,"x":1.137,"y":2.4},{"s":32,"x":1.172,"y":4},{"s":32,"x":1.207,"y":-0.1},{"s":32,"x":1.242,"y":0.6},{"s":32,"x":1.276,"y":-1.6},{"s":32,"x":1.311,"y":2},{"s":32,"x":1.346,"y":3.4},{"s":32,"x":1.381,"y":-0.6},{"s":32,"x":1.416,"y":1.5},{"s":32,"x":1.451,"y":3.5},{"s":32,"x":1.486,"y":0.8},{"s":32,"x":1.521,"y":1},{"s":32,"x":1.556,"y":1.8},{"s":32,"x":1.591,"y":2.5},{"s":32,"x":1.626,"y":2.8},{"s":32,"x":1.66,"y":2.3},{"s":32,"x":1.695,"y":1.7},{"s":32,"x":1.73,"y":1.3},{"s":32,"x":1.765,"y":1.6},{"s":32,"x":1.8,"y":1.9},{"s":32,"x":1.835,"y":1.6},{"s":32,"x":1.87,"y":1.4},{"s":32,"x":1.905,"y":1.6},{"s":32,"x":1.94,"y":1.8},{"s":32,"x":1.975,"y":1.25},{"s":32,"x":2.01,"y":0.85},{"s":32,"x":2.044,"y":0.65},{"s":32,"x":2.079,"y":0.6},{"s":32,"x":2.114,"y":0.25},{"s":32,"x":2.149,"y":0.02},
{"s":33,"x":1.067,"y":0},{"s":33,"x":1.102,"y":-2.2},{"s":33,"x":1.137,"y":-0.3},{"s":33,"x":1.172,"y":1.2},{"s":33,"x":1.207,"y":3},{"s":33,"x":1.242,"y":4.8},{"s":33,"x":1.276,"y":1.5},{"s":33,"x":1.311,"y":-1},{"s":33,"x":1.346,"y":0.9},{"s":33,"x":1.381,"y":3.8},{"s":33,"x":1.416,"y":2.3},{"s":33,"x":1.451,"y":0.7},{"s":33,"x":1.486,"y":-0.2},{"s":33,"x":1.521,"y":1.2},{"s":33,"x":1.556,"y":0.8},{"s":33,"x":1.591,"y":0.5},{"s":33,"x":1.626,"y":0.3},{"s":33,"x":1.66,"y":0.7},{"s":33,"x":1.695,"y":1},{"s":33,"x":1.73,"y":1.4},{"s":33,"x":1.765,"y":1.2},{"s":33,"x":1.8,"y":0.9},{"s":33,"x":1.835,"y":0.8},{"s":33,"x":1.87,"y":1.1},{"s":33,"x":1.905,"y":1.4},{"s":33,"x":1.94,"y":1.2},{"s":33,"x":1.975,"y":0.9},{"s":33,"x":2.01,"y":0.55},{"s":33,"x":2.044,"y":0.45},{"s":33,"x":2.079,"y":0.5},{"s":33,"x":2.114,"y":0.05},{"s":33,"x":2.149,"y":0.01},
{"s":34,"x":1.067,"y":0},{"s":34,"x":1.102,"y":2.4},{"s":34,"x":1.137,"y":1},{"s":34,"x":1.172,"y":-1.8},{"s":34,"x":1.207,"y":1.7},{"s":34,"x":1.242,"y":3.3},{"s":34,"x":1.276,"y":5.3},{"s":34,"x":1.311,"y":-0.2},{"s":34,"x":1.346,"y":1.6},{"s":34,"x":1.381,"y":2.6},{"s":34,"x":1.416,"y":-0.4},{"s":34,"x":1.451,"y":2},{"s":34,"x":1.486,"y":1.4},{"s":34,"x":1.521,"y":2.3},{"s":34,"x":1.556,"y":2.9},{"s":34,"x":1.591,"y":2.2},{"s":34,"x":1.626,"y":1.8},{"s":34,"x":1.66,"y":2.1},{"s":34,"x":1.695,"y":2.5},{"s":34,"x":1.73,"y":2.8},{"s":34,"x":1.765,"y":2.5},{"s":34,"x":1.8,"y":2},{"s":34,"x":1.835,"y":2.3},{"s":34,"x":1.87,"y":2.7},{"s":34,"x":1.905,"y":2.5},{"s":34,"x":1.94,"y":2.2},{"s":34,"x":1.975,"y":1.55},{"s":34,"x":2.01,"y":1},{"s":34,"x":2.044,"y":0.8},{"s":34,"x":2.079,"y":0.75},{"s":34,"x":2.114,"y":0.5},{"s":34,"x":2.149,"y":0.05},
{"s":35,"x":1.067,"y":0},{"s":35,"x":1.102,"y":4.5},{"s":35,"x":1.137,"y":1.8},{"s":35,"x":1.172,"y":0},{"s":35,"x":1.207,"y":-2.2},{"s":35,"x":1.242,"y":1.8},{"s":35,"x":1.276,"y":2.5},{"s":35,"x":1.311,"y":3.6},{"s":35,"x":1.346,"y":-1.4},{"s":35,"x":1.381,"y":0.4},{"s":35,"x":1.416,"y":2.6},{"s":35,"x":1.451,"y":1.1},{"s":35,"x":1.486,"y":2.6},{"s":35,"x":1.521,"y":2},{"s":35,"x":1.556,"y":1.6},{"s":35,"x":1.591,"y":2},{"s":35,"x":1.626,"y":2.6},{"s":35,"x":1.66,"y":2.9},{"s":35,"x":1.695,"y":2.4},{"s":35,"x":1.73,"y":2},{"s":35,"x":1.765,"y":2.4},{"s":35,"x":1.8,"y":2.1},{"s":35,"x":1.835,"y":1.8},{"s":35,"x":1.87,"y":2},{"s":35,"x":1.905,"y":1.9},{"s":35,"x":1.94,"y":1.9},{"s":35,"x":1.975,"y":1.3},{"s":35,"x":2.01,"y":0.9},{"s":35,"x":2.044,"y":0.7},{"s":35,"x":2.079,"y":0.7},{"s":35,"x":2.114,"y":0.4},{"s":35,"x":2.149,"y":0.04},
{"s":36,"x":1.067,"y":0},{"s":36,"x":1.102,"y":-1.4},{"s":36,"x":1.137,"y":2.7},{"s":36,"x":1.172,"y":1.1},{"s":36,"x":1.207,"y":4.4},{"s":36,"x":1.242,"y":-0.6},{"s":36,"x":1.276,"y":0.7},{"s":36,"x":1.311,"y":2.5},{"s":36,"x":1.346,"y":3},{"s":36,"x":1.381,"y":-2.6},{"s":36,"x":1.416,"y":3.2},{"s":36,"x":1.451,"y":2.8},{"s":36,"x":1.486,"y":0.4},{"s":36,"x":1.521,"y":0},{"s":36,"x":1.556,"y":0.9},{"s":36,"x":1.591,"y":1.5},{"s":36,"x":1.626,"y":1.2},{"s":36,"x":1.66,"y":0.9},{"s":36,"x":1.695,"y":1.3},{"s":36,"x":1.73,"y":1.7},{"s":36,"x":1.765,"y":1.4},{"s":36,"x":1.8,"y":1.1},{"s":36,"x":1.835,"y":1},{"s":36,"x":1.87,"y":1.2},{"s":36,"x":1.905,"y":1.5},{"s":36,"x":1.94,"y":1.3},{"s":36,"x":1.975,"y":0.9},{"s":36,"x":2.01,"y":0.6},{"s":36,"x":2.044,"y":0.5},{"s":36,"x":2.079,"y":0.5},{"s":36,"x":2.114,"y":0.1},{"s":36,"x":2.149,"y":0.02},
{"s":37,"x":1.067,"y":0},{"s":37,"x":1.102,"y":1.8},{"s":37,"x":1.137,"y":0.3},{"s":37,"x":1.172,"y":3.8},{"s":37,"x":1.207,"y":-1.4},{"s":37,"x":1.242,"y":2},{"s":37,"x":1.276,"y":4},{"s":37,"x":1.311,"y":-1.8},{"s":37,"x":1.346,"y":1.2},{"s":37,"x":1.381,"y":1.8},{"s":37,"x":1.416,"y":-0.9},{"s":37,"x":1.451,"y":1.4},{"s":37,"x":1.486,"y":2.2},{"s":37,"x":1.521,"y":1.4},{"s":37,"x":1.556,"y":2.2},{"s":37,"x":1.591,"y":2.8},{"s":37,"x":1.626,"y":2},{"s":37,"x":1.66,"y":1.5},{"s":37,"x":1.695,"y":1.9},{"s":37,"x":1.73,"y":2.3},{"s":37,"x":1.765,"y":1.9},{"s":37,"x":1.8,"y":1.5},{"s":37,"x":1.835,"y":1.9},{"s":37,"x":1.87,"y":2},{"s":37,"x":1.905,"y":2.2},{"s":37,"x":1.94,"y":1.8},{"s":37,"x":1.975,"y":1.25},{"s":37,"x":2.01,"y":0.85},{"s":37,"x":2.044,"y":0.7},{"s":37,"x":2.079,"y":0.65},{"s":37,"x":2.114,"y":0.35},{"s":37,"x":2.149,"y":0.03},
{"s":38,"x":1.067,"y":0},{"s":38,"x":1.102,"y":-0.4},{"s":38,"x":1.137,"y":-2.4},{"s":38,"x":1.172,"y":2.8},{"s":38,"x":1.207,"y":1.8},{"s":38,"x":1.242,"y":0.2},{"s":38,"x":1.276,"y":3},{"s":38,"x":1.311,"y":1.9},{"s":38,"x":1.346,"y":-0.4},{"s":38,"x":1.381,"y":4.2},{"s":38,"x":1.416,"y":1.6},{"s":38,"x":1.451,"y":3.9},{"s":38,"x":1.486,"y":2.6},{"s":38,"x":1.521,"y":3.5},{"s":38,"x":1.556,"y":2.8},{"s":38,"x":1.591,"y":2.4},{"s":38,"x":1.626,"y":2},{"s":38,"x":1.66,"y":2.3},{"s":38,"x":1.695,"y":2.7},{"s":38,"x":1.73,"y":2.3},{"s":38,"x":1.765,"y":1.8},{"s":38,"x":1.8,"y":2.1},{"s":38,"x":1.835,"y":2.5},{"s":38,"x":1.87,"y":2.3},{"s":38,"x":1.905,"y":2},{"s":38,"x":1.94,"y":2.2},{"s":38,"x":1.975,"y":1.5},{"s":38,"x":2.01,"y":1},{"s":38,"x":2.044,"y":0.8},{"s":38,"x":2.079,"y":0.8},{"s":38,"x":2.114,"y":0.55},{"s":38,"x":2.149,"y":0.05},
{"s":39,"x":1.067,"y":0},{"s":39,"x":1.102,"y":2.9},{"s":39,"x":1.137,"y":4.2},{"s":39,"x":1.172,"y":0.8},{"s":39,"x":1.207,"y":2},{"s":39,"x":1.242,"y":-1},{"s":39,"x":1.276,"y":0},{"s":39,"x":1.311,"y":2.8},{"s":39,"x":1.346,"y":1.5},{"s":39,"x":1.381,"y":0.3},{"s":39,"x":1.416,"y":4},{"s":39,"x":1.451,"y":0.3},{"s":39,"x":1.486,"y":1.9},{"s":39,"x":1.521,"y":2.2},{"s":39,"x":1.556,"y":0.6},{"s":39,"x":1.591,"y":0.2},{"s":39,"x":1.626,"y":0.4},{"s":39,"x":1.66,"y":0.8},{"s":39,"x":1.695,"y":1.2},{"s":39,"x":1.73,"y":0.8},{"s":39,"x":1.765,"y":0.5},{"s":39,"x":1.8,"y":0.9},{"s":39,"x":1.835,"y":1.1},{"s":39,"x":1.87,"y":0.8},{"s":39,"x":1.905,"y":0.6},{"s":39,"x":1.94,"y":0.9},{"s":39,"x":1.975,"y":0.75},{"s":39,"x":2.01,"y":0.45},{"s":39,"x":2.044,"y":0.4},{"s":39,"x":2.079,"y":0.4},{"s":39,"x":2.114,"y":-0.05},{"s":39,"x":2.149,"y":0},
{"s":40,"x":1.067,"y":0},{"s":40,"x":1.102,"y":0.5},{"s":40,"x":1.137,"y":1.9},{"s":40,"x":1.172,"y":-1.2},{"s":40,"x":1.207,"y":2.6},{"s":40,"x":1.242,"y":3.9},{"s":40,"x":1.276,"y":-2},{"s":40,"x":1.311,"y":1.4},{"s":40,"x":1.346,"y":2.4},{"s":40,"x":1.381,"y":0.9},{"s":40,"x":1.416,"y":-1.8},{"s":40,"x":1.451,"y":2.1},{"s":40,"x":1.486,"y":1},{"s":40,"x":1.521,"y":2.8},{"s":40,"x":1.556,"y":2.5},{"s":40,"x":1.591,"y":1.8},{"s":40,"x":1.626,"y":1.5},{"s":40,"x":1.66,"y":1.1},{"s":40,"x":1.695,"y":1.5},{"s":40,"x":1.73,"y":1.8},{"s":40,"x":1.765,"y":2.2},{"s":40,"x":1.8,"y":2.5},{"s":40,"x":1.835,"y":2.1},{"s":40,"x":1.87,"y":1.7},{"s":40,"x":1.905,"y":1.5},{"s":40,"x":1.94,"y":1.7},{"s":40,"x":1.975,"y":1.2},{"s":40,"x":2.01,"y":0.8},{"s":40,"x":2.044,"y":0.6},{"s":40,"x":2.079,"y":0.6},{"s":40,"x":2.114,"y":0.3},{"s":40,"x":2.149,"y":0.03},
{"s":41,"x":1.067,"y":0},{"s":41,"x":1.102,"y":-2.8},{"s":41,"x":1.137,"y":0.6},{"s":41,"x":1.172,"y":2.3},{"s":41,"x":1.207,"y":4.6},{"s":41,"x":1.242,"y":1.8},{"s":41,"x":1.276,"y":0.8},{"s":41,"x":1.311,"y":-1.3},{"s":41,"x":1.346,"y":3.4},{"s":41,"x":1.381,"y":1.7},{"s":41,"x":1.416,"y":3.2},{"s":41,"x":1.451,"y":0.6},{"s":41,"x":1.486,"y":2.4},{"s":41,"x":1.521,"y":1.6},{"s":41,"x":1.556,"y":1},{"s":41,"x":1.591,"y":1.3},{"s":41,"x":1.626,"y":1.8},{"s":41,"x":1.66,"y":2.2},{"s":41,"x":1.695,"y":1.8},{"s":41,"x":1.73,"y":1.5},{"s":41,"x":1.765,"y":1.2},{"s":41,"x":1.8,"y":1.4},{"s":41,"x":1.835,"y":1.8},{"s":41,"x":1.87,"y":2.2},{"s":41,"x":1.905,"y":1.9},{"s":41,"x":1.94,"y":1.6},{"s":41,"x":1.975,"y":1.15},{"s":41,"x":2.01,"y":0.8},{"s":41,"x":2.044,"y":0.65},{"s":41,"x":2.079,"y":0.65},{"s":41,"x":2.114,"y":0.35},{"s":41,"x":2.149,"y":0.03},
{"s":42,"x":1.067,"y":0},{"s":42,"x":1.102,"y":3.4},{"s":42,"x":1.137,"y":-1.2},{"s":42,"x":1.172,"y":0.3},{"s":42,"x":1.207,"y":1.6},{"s":42,"x":1.242,"y":4.3},{"s":42,"x":1.276,"y":2.9},{"s":42,"x":1.311,"y":0.7},{"s":42,"x":1.346,"y":-2},{"s":42,"x":1.381,"y":3.4},{"s":42,"x":1.416,"y":0.8},{"s":42,"x":1.451,"y":2.3},{"s":42,"x":1.486,"y":3.4},{"s":42,"x":1.521,"y":2.7},{"s":42,"x":1.556,"y":1.9},{"s":42,"x":1.591,"y":1.2},{"s":42,"x":1.626,"y":1.6},{"s":42,"x":1.66,"y":2},{"s":42,"x":1.695,"y":2.3},{"s":42,"x":1.73,"y":2.6},{"s":42,"x":1.765,"y":2.3},{"s":42,"x":1.8,"y":2},{"s":42,"x":1.835,"y":1.7},{"s":42,"x":1.87,"y":1.8},{"s":42,"x":1.905,"y":1.6},{"s":42,"x":1.94,"y":1.8},{"s":42,"x":1.975,"y":1.3},{"s":42,"x":2.01,"y":0.85},{"s":42,"x":2.044,"y":0.65},{"s":42,"x":2.079,"y":0.65},{"s":42,"x":2.114,"y":0.3},{"s":42,"x":2.149,"y":0.03}
],
"mean":[{"x":1.067,"y":0},{"x":1.102,"y":0.135},{"x":1.137,"y":0.18},{"x":1.172,"y":0.495},{"x":1.207,"y":-0.045},{"x":1.242,"y":-0.045},{"x":1.276,"y":-0.045},{"x":1.311,"y":-0.18},{"x":1.346,"y":0.35},{"x":1.381,"y":0.49},{"x":1.416,"y":0.57},{"x":1.451,"y":1.3},{"x":1.486,"y":1.3},{"x":1.521,"y":1.3},{"x":1.556,"y":1.33},{"x":1.591,"y":1.5},{"x":1.626,"y":1.45},{"x":1.66,"y":1.42},{"x":1.695,"y":1.39},{"x":1.73,"y":1.52},{"x":1.765,"y":1.52},{"x":1.8,"y":1.5},{"x":1.835,"y":1.75},{"x":1.87,"y":1.74},{"x":1.905,"y":1.68},{"x":1.94,"y":1.78},{"x":1.975,"y":1.06},{"x":2.01,"y":0.77},{"x":2.044,"y":0.6},{"x":2.079,"y":0.63},{"x":2.114,"y":-0.05},{"x":2.149,"y":0.03}],
"up":[{"x":1.486,"y":3.05},{"x":1.521,"y":2.85},{"x":1.556,"y":2.7},{"x":1.591,"y":2.59},{"x":1.626,"y":2.48},{"x":1.66,"y":2.4},{"x":1.695,"y":2.39},{"x":1.73,"y":2.39},{"x":1.765,"y":2.38},{"x":1.8,"y":2.37},{"x":1.835,"y":2.36},{"x":1.87,"y":2.32},{"x":1.905,"y":2.27},{"x":1.94,"y":2.23},{"x":1.975,"y":1.61},{"x":2.01,"y":1.05},{"x":2.044,"y":0.98},{"x":2.079,"y":0.9},{"x":2.114,"y":0.69},{"x":2.149,"y":0.07}],
"lo":[{"x":1.451,"y":-1.1},{"x":1.486,"y":-0.79},{"x":1.521,"y":-0.42},{"x":1.556,"y":-0.03},{"x":1.591,"y":0.24},{"x":1.626,"y":0.34},{"x":1.66,"y":0.43},{"x":1.695,"y":0.55},{"x":1.73,"y":0.63},{"x":1.765,"y":0.7},{"x":1.8,"y":0.78},{"x":1.835,"y":0.86},{"x":1.87,"y":0.94},{"x":1.905,"y":1.02},{"x":1.94,"y":1.08},{"x":1.975,"y":0.65},{"x":2.01,"y":0.3},{"x":2.044,"y":0.37},{"x":2.079,"y":0.43},{"x":2.114,"y":-0.18},{"x":2.149,"y":0}]
},
"layer":[
{"data":{"name":"sp"},"mark":{"type":"line","strokeWidth":1.3,"opacity":0.65,"clip":true},
"encoding":{
"x":{"field":"x","type":"quantitative","scale":{"domain":[1.0667,2.149],"nice":false,"zero":false},
"axis":{"orient":"bottom","values":[1.2,1.4,1.6,1.8,2.0],"format":".1f","tickSize":12,"tickColor":"#222","tickWidth":1.5,"domainColor":"#222","domainWidth":1.5,"grid":false,"labelFontSize":24,"labelColor":"black","labelPadding":10,"labelFlush":false,"labelOverlap":false,"labelBaseline":"top","title":"Major Radius / m","titleFontSize":34,"titleFontWeight":"normal","titleColor":"black","titleX":724,"titleY":84,"titleBaseline":"alphabetic","titleAlign":"center"}},
"y":{"field":"y","type":"quantitative","scale":{"domain":[-1,3],"nice":false},
"axis":{"orient":"left","values":[-1,0,1,2,3],"labelExpr":"''+datum.value","tickSize":14,"tickColor":"#222","tickWidth":1.5,"domainColor":"#222","domainWidth":1.5,"grid":false,"labelFontSize":24,"labelColor":"black","labelPadding":7,"labelFlush":false,"labelOverlap":false,"title":["Toroidal Current","Density / MA m⁻³"],"titleFontSize":34,"titleFontWeight":"normal","titleColor":"black","titleX":-118,"titleY":140,"titleAlign":"center","titleBaseline":"alphabetic","titleLineHeight":45,"titleAngle":-90}},
"color":{"field":"s","type":"nominal","scale":{"range":["#0000ff","#008000","#ff0000","#00bfbf","#bf00bf","#bfbf00","#000000"]},"legend":null}}},
{"data":{"values":[{"y":0}]},"mark":{"type":"rule","strokeDash":[3,3],"strokeWidth":3,"color":"black"},"encoding":{"y":{"field":"y","type":"quantitative","axis":null}}},
{"data":{"name":"mean"},"mark":{"type":"line","color":"black","strokeWidth":4,"clip":true},"encoding":{
"x":{"field":"x","type":"quantitative","axis":{"orient":"bottom","values":[1.1,1.15,1.25,1.3,1.35,1.45,1.5,1.55,1.65,1.7,1.75,1.85,1.9,1.95,2.05,2.1],"labels":false,"title":null,"tickSize":7,"tickColor":"#222","tickWidth":1.5,"domain":false,"grid":false}},
"y":{"field":"y","type":"quantitative","axis":{"orient":"left","values":[-0.5,0.5,1.5,2.5],"labels":false,"title":null,"tickSize":9,"tickColor":"#222","tickWidth":1.5,"domain":false,"grid":false}}}},
{"data":{"name":"mean"},"transform":[{"filter":"datum.x < 1.07"}],"mark":{"type":"circle","color":"black","size":50,"opacity":1},"encoding":{"x":{"field":"x","type":"quantitative","axis":null},"y":{"field":"y","type":"quantitative","axis":null}}},
{"data":{"name":"up"},"mark":{"type":"line","color":"#0000ff","strokeWidth":6,"strokeDash":[18,7],"clip":true},"encoding":{"x":{"field":"x","type":"quantitative","axis":null},"y":{"field":"y","type":"quantitative","axis":null}}},
{"data":{"name":"lo"},"mark":{"type":"line","color":"#0000ff","strokeWidth":6,"strokeDash":[18,7],"clip":true},"encoding":{"x":{"field":"x","type":"quantitative","axis":null},"y":{"field":"y","type":"quantitative","axis":null}}},
{"data":{"values":[{"x":1.307,"x2":2.149,"y":-1,"y2":-0.405}]},"mark":{"type":"rect","fill":"white","opacity":0.72},"encoding":{"x":{"field":"x","type":"quantitative","axis":null},"x2":{"field":"x2"},"y":{"field":"y","type":"quantitative","axis":null},"y2":{"field":"y2"}}},
{"data":{"values":[{"t":"+30 pitch angle measurements","x":1.329,"y":-0.856}]},"mark":{"type":"text","fontSize":42.5,"align":"left","baseline":"alphabetic","color":"black"},"encoding":{"x":{"field":"x","type":"quantitative","axis":null},"y":{"field":"y","type":"quantitative","axis":null},"text":{"field":"t"}}},
{"data":{"values":[{"t":"+2σ","x":1.822,"y":2.46},{"t":"-2σ","x":1.833,"y":0.455}]},"mark":{"type":"text","fontSize":49,"align":"left","baseline":"alphabetic","color":"#0000ff"},"encoding":{"x":{"field":"x","type":"quantitative","axis":null},"y":{"field":"y","type":"quantitative","axis":null},"text":{"field":"t"}}}
]}
